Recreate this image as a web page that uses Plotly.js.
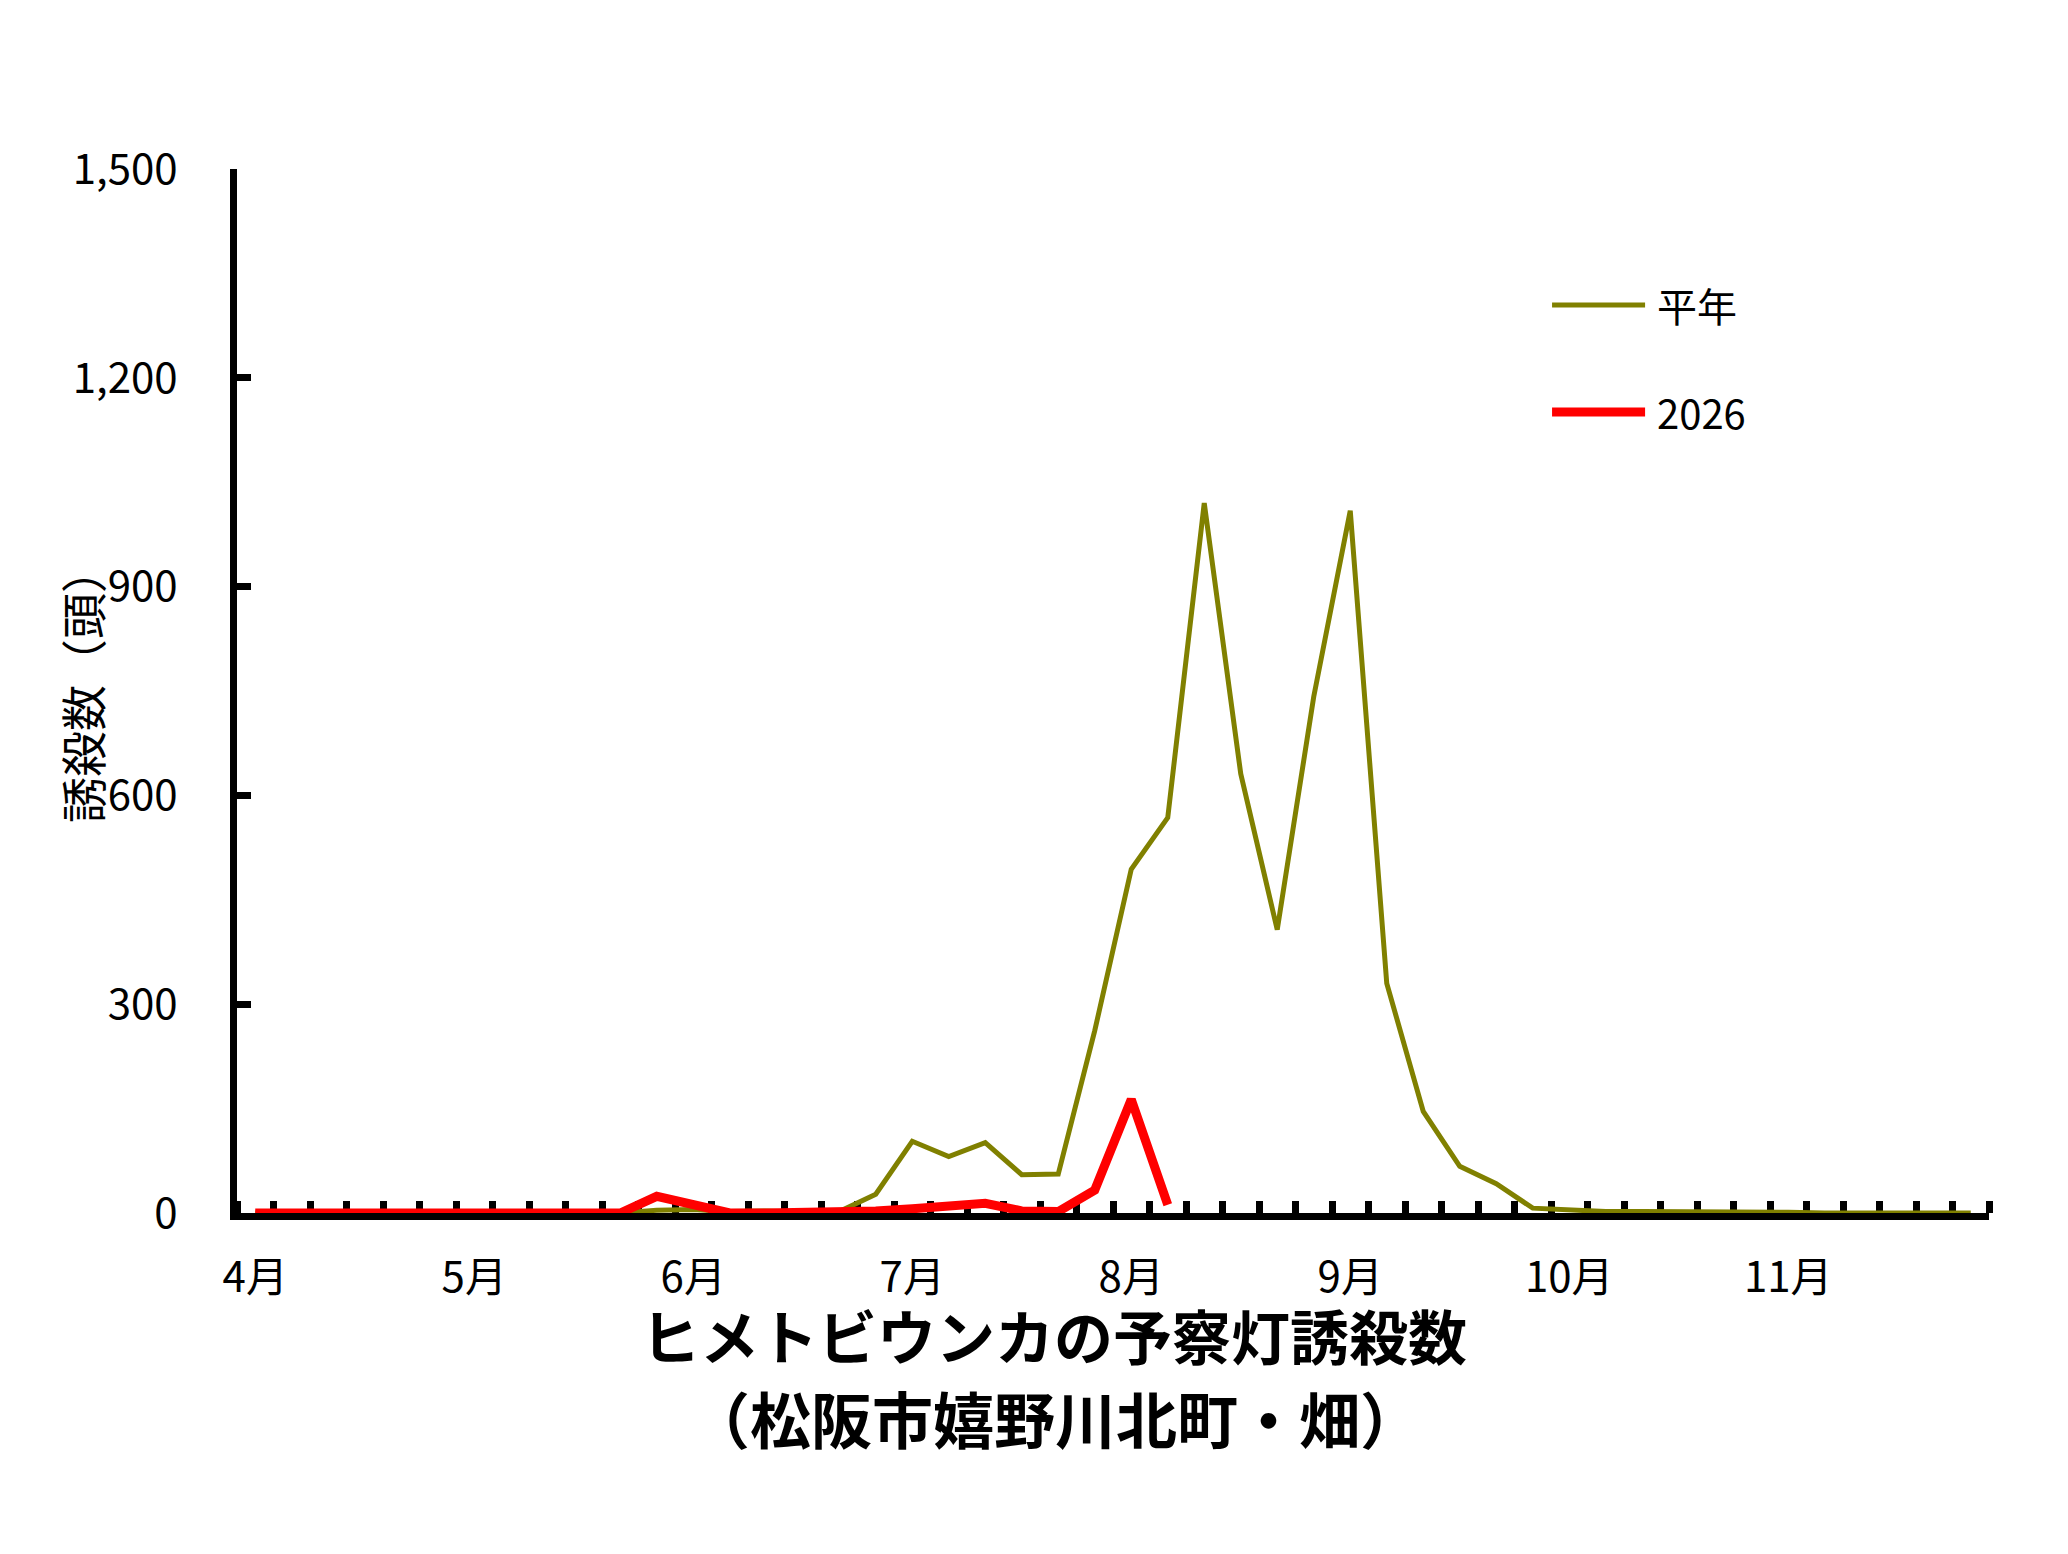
<!DOCTYPE html>
<html>
<head>
<meta charset="utf-8">
<script src="https://cdn.plot.ly/plotly-3.0.1.min.js"></script>
<style>html,body{margin:0;padding:0;background:#fff;}#chart{width:2068px;height:1554px;}</style>
</head>
<body>
<div id="chart"></div>
<script>
// 半旬 (5-day periods), 6 per month, April to November
const months = ["4月","5月","6月","7月","8月","9月","10月","11月"];
const periodsPerMonth = 6;

const seriesNames = ["平年", "2026"];

// 平年 (normal year)
const normalValues = [
  0,0,0,0,0,0,
  0,0,0,0,0,4,
  5,2,3,1,2,27,
  103,81,101,55,56,262,
  494,568,1020,631,407,742,
  1009,330,146,67,42,7,
  4,2,2,2,1,1,
  1,0,0,0,0,0
];

// 2026
const currentValues = [
  0,0,0,0,0,0,
  0,0,0,0,0,24,
  11,0,0,0,0,3,
  6,9,14,3,2,33,
  163,12
];

const yTicks = [0,300,600,900,1200,1500];

const nCat = months.length * periodsPerMonth;
const xIdx = Array.from({length: nCat}, (_, i) => i);
const monthTickVals = months.map((_, m) => m * periodsPerMonth);
const boundaryTicks = Array.from({length: nCat + 1}, (_, k) => k - 0.5);

const cjk = '"Noto Sans CJK JP", "Noto Sans", sans-serif';
const green = '#808000';
const red = '#FF0000';

const traces = [
  {
    type: 'scatter', mode: 'lines', name: seriesNames[0],
    x: xIdx, y: normalValues,
    line: {color: green, width: 5, shape: 'linear'},
    cliponaxis: false, showlegend: false
  },
  {
    type: 'scatter', mode: 'lines', name: seriesNames[1],
    x: xIdx.slice(0, currentValues.length), y: currentValues,
    line: {color: red, width: 9, shape: 'linear'},
    cliponaxis: false, showlegend: false
  }
];

const layout = {
  width: 2068, height: 1554,
  paper_bgcolor: '#ffffff', plot_bgcolor: '#ffffff',
  margin: {l: 237, r: 79, t: 169, b: 341},
  showlegend: false,
  font: {family: cjk, color: '#000'},
  title: {
    text: 'ヒメトビウンカの予察灯誘殺数',
    font: {family: cjk, size: 59, weight: 'bold', color: '#000'},
    xref: 'container', yref: 'container',
    x: 0.5097, y: 1 - 1339/1554, xanchor: 'center', yanchor: 'middle'
  },
  xaxis: {
    range: [-0.5, nCat - 0.5],
    showgrid: false, zeroline: false,
    showline: true, linecolor: '#000', linewidth: 7,
    tickmode: 'array', tickvals: monthTickVals, ticktext: months,
    ticks: '', ticklabelstandoff: 22,
    tickfont: {family: cjk, size: 42, color: '#000'},
    minor: {tickmode: 'array', tickvals: boundaryTicks, ticks: 'inside', ticklen: 12, tickwidth: 7, tickcolor: '#000', showgrid: false},
    layer: 'below traces',
    fixedrange: true
  },
  yaxis: {
    range: [0, 1500],
    showgrid: false, zeroline: false,
    showline: true, linecolor: '#000', linewidth: 7,
    tickmode: 'array', tickvals: yTicks,
    tickformat: ',d',
    ticks: 'inside', ticklen: 14, tickwidth: 7, tickcolor: '#000',
    ticklabelstandoff: 44,
    tickfont: {family: cjk, size: 42, color: '#000'},
    layer: 'below traces',
    fixedrange: true
  },
  shapes: [
    {type: 'line', xref: 'paper', yref: 'paper', x0: 0.7506, x1: 0.8037, y0: 0.8697, y1: 0.8697,
     line: {color: green, width: 5}},
    {type: 'line', xref: 'paper', yref: 'paper', x0: 0.7506, x1: 0.8037, y0: 0.7672, y1: 0.7672,
     line: {color: red, width: 9}}
  ],
  annotations: [
    {text: '（松阪市嬉野川北町・畑）', xref: 'paper', yref: 'paper', x: 0.4669, y: -0.196,
     xanchor: 'center', yanchor: 'middle', showarrow: false,
     font: {family: cjk, size: 61, weight: 'bold', color: '#000'}},
    {text: '誘殺数（頭）', xref: 'paper', yref: 'paper', x: -0.089, y: 0.5057,
     xanchor: 'center', yanchor: 'middle', showarrow: false, textangle: -90,
     font: {family: cjk, size: 46, color: '#000'}},
    {text: seriesNames[0], xref: 'paper', yref: 'paper', x: 0.8094, y: 0.8697,
     xanchor: 'left', yanchor: 'middle', showarrow: false,
     font: {family: cjk, size: 40, color: '#000'}},
    {text: seriesNames[1], xref: 'paper', yref: 'paper', x: 0.8094, y: 0.7672,
     xanchor: 'left', yanchor: 'middle', showarrow: false,
     font: {family: cjk, size: 40, color: '#000'}}
  ]
};

Plotly.newPlot('chart', traces, layout, {displayModeBar: false, staticPlot: true});
</script>
</body>
</html>
